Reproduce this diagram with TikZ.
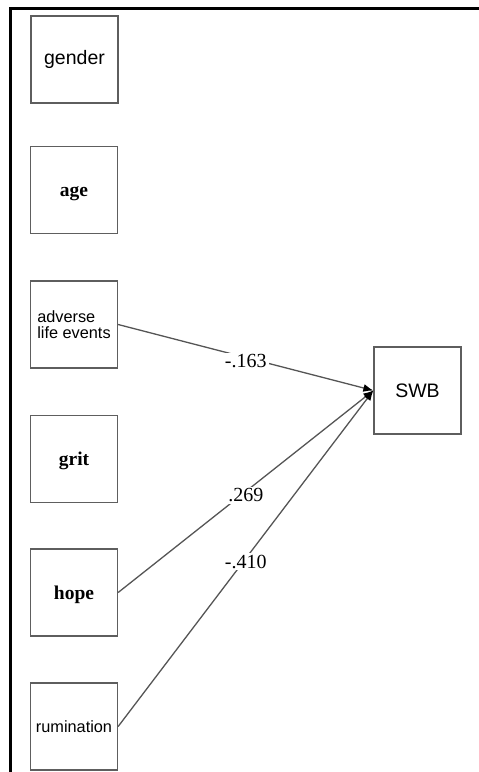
\documentclass[tikz,border=0pt]{standalone}
\usepackage{fontspec}
\setmainfont{Liberation Serif}
\setsansfont{Liberation Sans}
\usetikzlibrary{arrows.meta}
\definecolor{boxgray}{HTML}{5E5E5E}
\definecolor{linegray}{HTML}{555555}
\tikzset{
  var/.style={draw=boxgray, line width=1.3pt, minimum width=87pt, minimum height=87pt,
    inner sep=0pt, align=left},
  sanslbl/.style={font=\sffamily\fontsize{19.5}{22}\selectfont},
  smallsans/.style={font=\sffamily\fontsize{16.3}{17.5}\selectfont},
  % serif labels sit a little below the middle of their boxes
  seriflbl/.style={font=\bfseries\fontsize{19.5}{22}\selectfont,
    text height=16pt, text depth=3pt},
  conn/.style={draw=linegray, line width=1.3pt, -{Latex[length=10pt,width=8pt,black]}},
  coef/.style={fill=white, inner sep=2pt, font=\fontsize{20}{22}\selectfont}
}
\begin{document}
\begin{tikzpicture}[x=1pt,y=-1pt]
  \useasboundingbox (0,0) rectangle (479,772);
  % outer frame (top and left edges)
  \draw[line width=2.2pt] (10.5,772) -- (10.5,8.5) -- (479,8.5);

  % predictors
  \node[var, sanslbl]   (gender) at (74.5,59.5)  {gender};
  \node[var, seriflbl]  (age)    at (74,190)     {age};
  \node[var, smallsans] (adv)    at (74,324.5)   {adverse\\[-2pt]life events};
  \node[var, seriflbl]  (grit)   at (74,459)     {grit};
  \node[var, seriflbl]  (hope)   at (74,592.5)   {hope};
  \node[var, smallsans] (rum)    at (74,726.5)   {rumination};

  % outcome
  \node[var, sanslbl]   (swb)    at (417.5,390.5) {SWB};

  % paths with coefficients
  \draw[conn] (adv.east) -- (swb.west)
    node[coef, pos=0.5, yshift=-4pt] {-.163};
  \draw[conn] (hope.east) -- (swb.west)
    node[coef, pos=0.5, yshift=-4pt] {.269};
  \draw[conn] (rum.east) -- (swb.west)
    node[coef, pos=0.5, yshift=-3pt] {-.410};
\end{tikzpicture}
\end{document}
